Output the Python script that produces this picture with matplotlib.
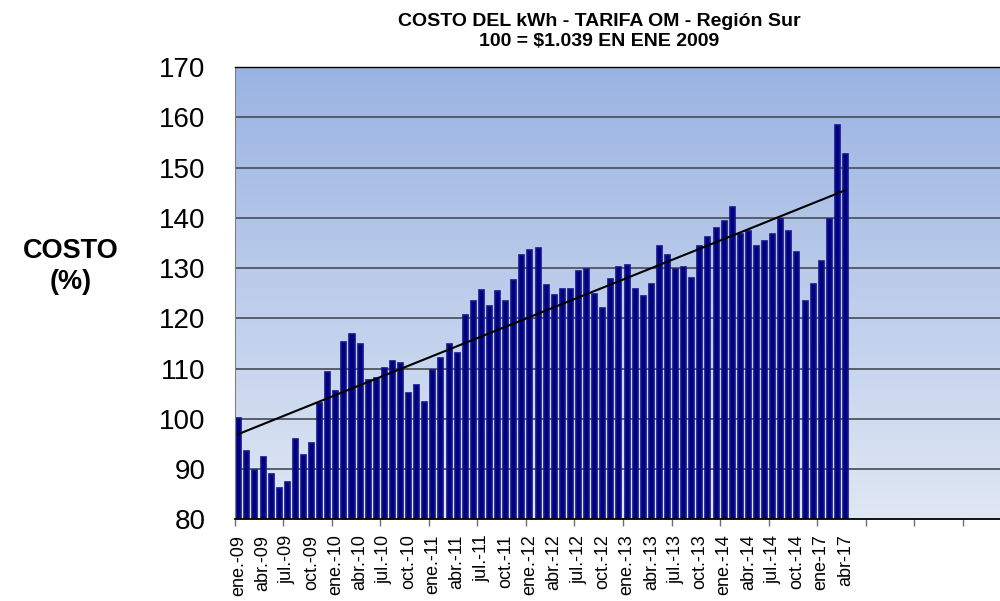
import numpy as np
import matplotlib
matplotlib.use("Agg")
import matplotlib.pyplot as plt
from matplotlib.colors import LinearSegmentedColormap

plt.rcParams['font.family'] = ['Liberation Sans', 'DejaVu Sans']

# ---- data ----
values = [100.2, 93.6, 89.8, 92.5, 89.0, 86.2, 87.5, 95.9, 92.7, 95.2,
          103.1, 109.4, 105.5, 115.3, 116.9, 114.9, 107.8, 108.1, 110.2, 111.6,
          111.2, 105.1, 106.7, 103.3, 109.8, 112.1, 114.9, 113.0, 120.7, 123.5,
          125.7, 122.5, 125.5, 123.4, 127.7, 132.5, 133.6, 134.0, 126.7, 124.7,
          125.8, 125.8, 129.5, 129.8, 124.8, 122.1, 127.8, 130.3, 130.6, 125.8,
          124.5, 126.8, 134.4, 132.6, 129.9, 130.3, 128.0, 134.3, 136.2, 138.0,
          139.3, 142.1, 136.8, 137.3, 134.4, 135.4, 136.8, 139.8, 137.4, 133.2,
          123.4, 126.8, 131.5, 139.8, 158.4, 152.6]
tick_labels = ["ene.-09", "abr.-09", "jul.-09", "oct.-09",
               "ene.-10", "abr.-10", "jul.-10", "oct.-10",
               "ene.-11", "abr.-11", "jul.-11", "oct.-11",
               "ene.-12", "abr.-12", "jul.-12", "oct.-12",
               "ene.-13", "abr.-13", "jul.-13", "oct.-13",
               "ene.-14", "abr.-14", "jul.-14", "oct.-14",
               "ene-17", "abr-17"]
n_slots = 96
title = "COSTO DEL kWh - TARIFA OM - Región Sur\n100 = $1.039 EN ENE 2009"
ylabel = "COSTO\n(%)"

# ---- figure ----
fig = plt.figure(figsize=(10, 6.01), dpi=100)
ax = fig.add_axes([0.2347, 0.1359, 0.7766, 0.7526])

x = np.arange(len(values))
ymin, ymax = 80, 170

# gradient background
cmap = LinearSegmentedColormap.from_list("bg", ["#dfe7f4", "#9ab3e2"])
grad = np.linspace(0, 1, 256).reshape(-1, 1)
ax.imshow(grad, cmap=cmap, origin="lower", aspect="auto",
          extent=[-0.5, n_slots - 0.5, ymin, ymax], zorder=0)

ax.set_xlim(-0.5, n_slots - 0.5)
ax.set_ylim(ymin, ymax)

# gridlines
for v in range(ymin + 10, ymax + 1, 10):
    ax.axhline(v, color="#50555f", lw=1.3, zorder=1)

ax.bar(x, values, width=0.62, bottom=0, color="#000080",
       edgecolor="#14148c", linewidth=1.2, zorder=2)

# linear trend line
coef = np.polyfit(x, values, 1)
ax.plot(x[[0, -1]], np.polyval(coef, x[[0, -1]]), color="black", lw=1.5, zorder=3)

# y ticks
ax.set_yticks(range(ymin, ymax + 1, 10))
ax.tick_params(axis="y", length=0, pad=21, labelsize=20)

# x ticks: marks every 6 slots, labels every 3
ax.set_xticks(np.arange(-0.5, n_slots, 6))
ax.set_xticklabels([])
ax.tick_params(axis="x", which="major", length=5, width=1, color="#707070", direction="out")
ax.set_xticks(np.arange(0, 3 * len(tick_labels), 3), minor=True)
ax.set_xticklabels(tick_labels, minor=True, rotation=90, fontsize=13)
ax.tick_params(axis="x", which="minor", length=0, pad=11)

ax.spines["left"].set_color("#808080")
ax.spines["bottom"].set_color("black")
ax.spines["bottom"].set_linewidth(1.3)
ax.spines["top"].set_color("black")
ax.spines["top"].set_linewidth(1.0)
ax.spines["right"].set_visible(False)

fig.text(0.599, 0.948, title, ha="center", va="center", fontsize=14,
         fontweight="bold", linespacing=1.2)
fig.text(0.071, 0.556, ylabel, ha="center", va="center", fontsize=19.5,
         fontweight="bold", linespacing=1.25)

fig.savefig("out.png", dpi=100)
